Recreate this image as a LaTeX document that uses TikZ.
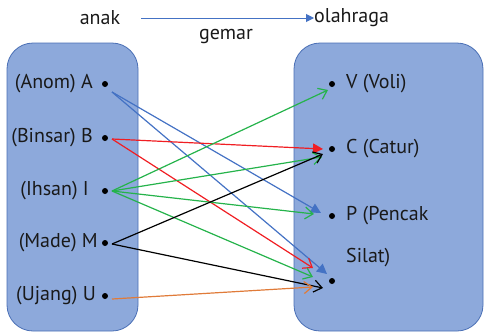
\documentclass[tikz,border=0pt]{standalone}
\usepackage{fontspec}
\setmainfont{PT Sans}
\usetikzlibrary{arrows.meta}
\definecolor{boxfill}{HTML}{8DA9DB}
\definecolor{boxline}{HTML}{4A6FB5}
\definecolor{ablue}{HTML}{4472C4}
\definecolor{ared}{HTML}{F01E23}
\definecolor{agreen}{HTML}{25B34B}
\definecolor{aorange}{HTML}{E07B39}
\tikzset{
  setbox/.style={draw=boxline, fill=boxfill, line width=0.8pt, rounded corners=26pt},
  lbl/.style={font=\fontsize{20}{22}\selectfont, text=black!90, inner sep=0pt},
  dotn/.style={circle, fill=black, inner sep=0pt, minimum size=6pt},
  conn/.style={line width=1.2pt},
  openhead/.style={-{Straight Barb[length=8pt,width=12pt,line width=1.2pt]}},
  fillhead/.style={-{Triangle[length=10pt,width=10pt]}},
}
\begin{document}
\begin{tikzpicture}[x=1pt,y=-1pt]
\useasboundingbox (0,0) rectangle (485,335);
\draw[setbox] (7,43) rectangle (138,331);
\draw[setbox] (294,43) rectangle (483,331);
% header
\node[lbl, anchor=center] (anak) at (100,18) {anak};
\node[lbl, anchor=west] (olah) at (314,18) {olahraga};
\node[lbl, anchor=center] (gemar) at (226,36) {gemar};
\coordinate (h0) at (141,18);
\draw[ablue, line width=1pt, -{Triangle[length=8pt,width=8pt]}] (h0) -- (olah.west |- h0);
% left dots
\node[dotn] (A) at (105,84) {};
\node[dotn] (B) at (105,138) {};
\node[dotn] (I) at (105,191) {};
\node[dotn] (M) at (105,243) {};
\node[dotn] (U) at (105,296) {};
\node[lbl, anchor=east] (lA) at (93,84) {(Anom) A};
\node[lbl, anchor=east] (lB) at (93,138) {(Binsar) B};
\node[lbl, anchor=east] (lI) at (89,191) {(Ihsan) I};
\node[lbl, anchor=east] (lM) at (98,243) {(Made) M};
\node[lbl, anchor=east] (lU) at (96,296) {(Ujang) U};
% right dots
\node[dotn] (V) at (332,84) {};
\node[dotn] (C) at (332,149) {};
\node[dotn] (P) at (332,216) {};
\node[dotn] (S) at (332,281) {};
\node[lbl, anchor=west] (lV) at (346,84) {V (Voli)};
\node[lbl, anchor=west] (lC) at (346,149) {C (Catur)};
\node[lbl, anchor=west] (lP) at (346,216) {P (Pencak};
\node[lbl, anchor=west] (lS) at (346,258) {Silat)};
% start points
\coordinate (sA) at (112,92);
\coordinate (sB) at (112,139);
\coordinate (sI) at (112,191);
\coordinate (sM) at (112,244);
\coordinate (sU) at (112,299);
% connectors
\draw[conn, ablue, fillhead] (sA) -- (321,213);
\draw[conn, ablue, fillhead] (sA) -- (327,274);
\draw[conn, ared, fillhead] (sB) -- (323,149);
\draw[conn, ared, openhead] (sB) -- (313,268);
\draw[conn, agreen, openhead] (sI) -- (328,90);
\draw[conn, agreen, openhead] (sI) -- (322,157);
\draw[conn, agreen, openhead] (sI) -- (314,214);
\draw[conn, agreen, openhead] (sI) -- (313,277);
\draw[conn, black, openhead] (sM) -- (323,154);
\draw[conn, black, openhead] (sM) -- (323,288);
\draw[conn, aorange, openhead] (sU) -- (313,287);
\end{tikzpicture}
\end{document}
